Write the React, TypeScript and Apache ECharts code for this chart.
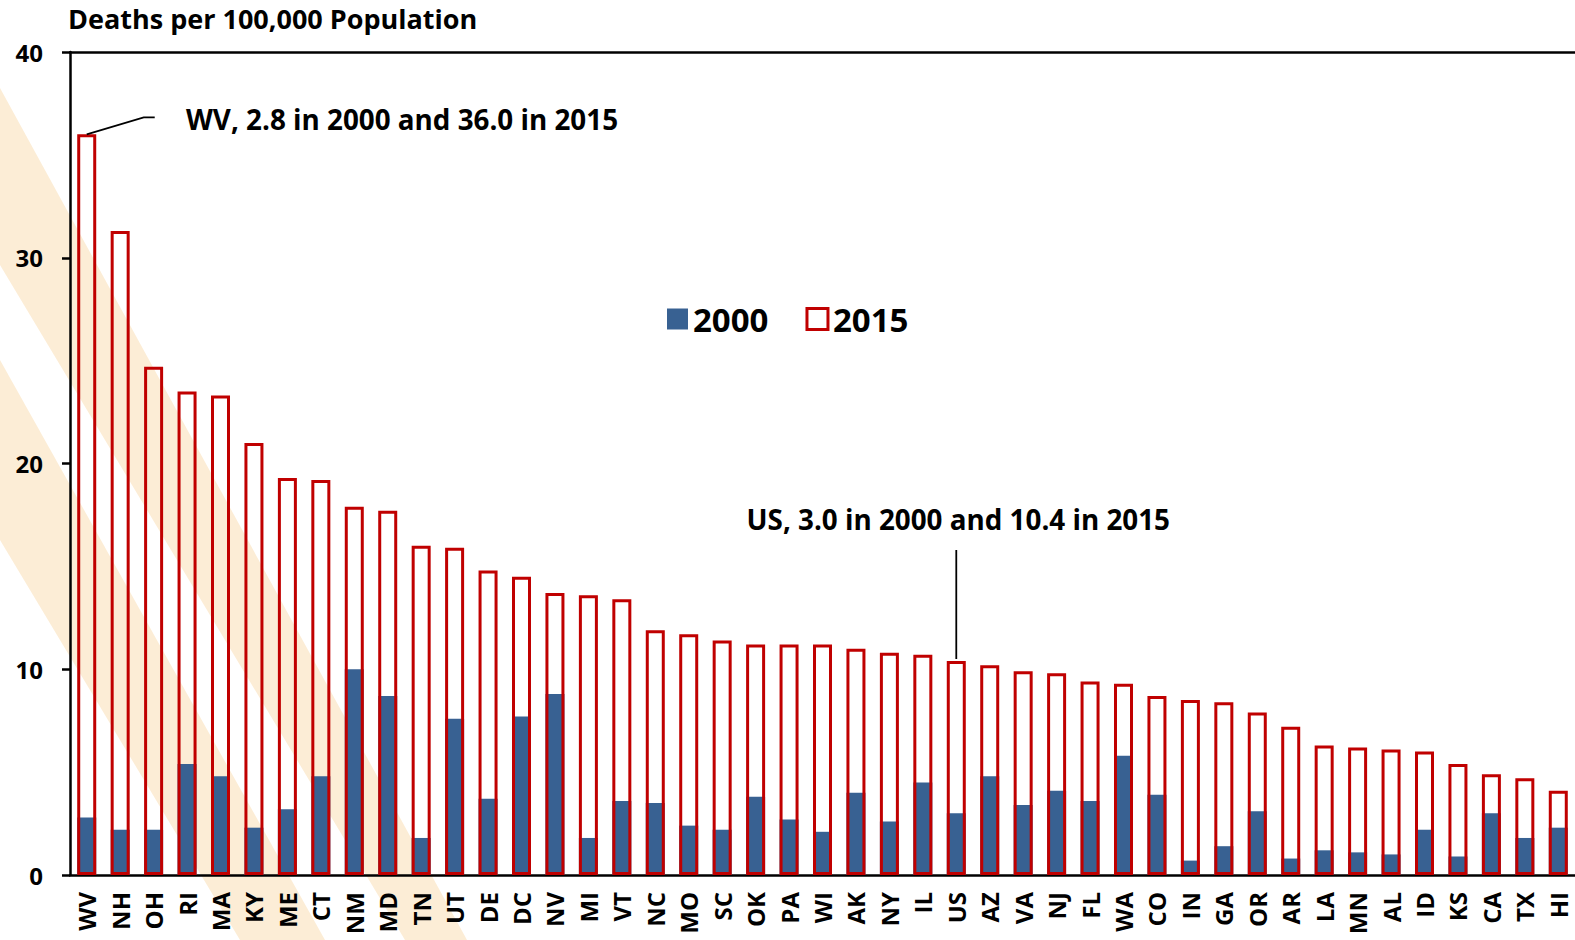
import React, { useEffect, useRef } from "react";
import * as echarts from "echarts";

const categories = ["WV","NH","OH","RI","MA","KY","ME","CT","NM","MD","TN","UT","DE","DC","NV","MI","VT","NC","MO","SC","OK","PA","WI","AK","NY","IL","US","AZ","VA","NJ","FL","WA","CO","IN","GA","OR","AR","LA","MN","AL","ID","KS","CA","TX","HI"];
const values2000 = [2.8,2.2,2.2,5.4,4.8,2.3,3.2,4.8,10.0,8.7,1.8,7.6,3.7,7.7,8.8,1.8,3.6,3.5,2.4,2.2,3.8,2.7,2.1,4.0,2.6,4.5,3.0,4.8,3.4,4.1,3.6,5.8,3.9,0.7,1.4,3.1,0.8,1.2,1.1,1.0,2.2,0.9,3.0,1.8,2.3];
const values2015 = [36.0,31.3,24.7,23.5,23.3,21.0,19.3,19.2,17.9,17.7,16.0,15.9,14.8,14.5,13.7,13.6,13.4,11.9,11.7,11.4,11.2,11.2,11.2,11.0,10.8,10.7,10.4,10.2,9.9,9.8,9.4,9.3,8.7,8.5,8.4,7.9,7.2,6.3,6.2,6.1,6.0,5.4,4.9,4.7,4.1];
const yTicks = [0, 10, 20, 30, 40];
const seriesNames = ["2000", "2015"];
const titleText = "Deaths per 100,000 Population";
const wvNote = "WV, 2.8 in 2000 and 36.0 in 2015";
const usNote = "US, 3.0 in 2000 and 10.4 in 2015";

const BLUE = "#386192";
const RED = "#C00000";
const BEIGE = "#FCEDD6";
const FONT = "Open Sans";

export default function App() {
  const ref = useRef<HTMLDivElement>(null);
  useEffect(() => {
    if (!ref.current) return;
    const chart = echarts.init(ref.current, null, { renderer: "svg" });
    chart.setOption({
      animation: false,
      backgroundColor: "#ffffff",
      title: {
        text: titleText,
        left: 63,
        top: 0,
        textStyle: { fontFamily: FONT, fontWeight: "bold", fontSize: 27, color: "#000" },
      },
      legend: {
        left: 662,
        top: 297,
        itemWidth: 21,
        itemHeight: 21,
        itemGap: 37,
        selectedMode: false,
        textStyle: { fontFamily: FONT, fontWeight: "bold", fontSize: 33, color: "#000", lineHeight: 34 },
        data: [
          { name: seriesNames[0], icon: "rect", itemStyle: { color: BLUE, borderWidth: 0 } },
          { name: seriesNames[1], icon: "rect", itemStyle: { color: "#fff", borderColor: RED, borderWidth: 3 } },
        ],
      },
      grid: { left: 70, top: 52, width: 1507, bottom: 65 },
      xAxis: [
        {
          type: "category",
          data: categories,
          axisLine: { show: true, lineStyle: { color: "#000", width: 2.5 } },
          axisTick: { show: false },
          axisLabel: {
            rotate: 90,
            interval: 0,
            margin: 17,
            fontFamily: FONT,
            fontWeight: "bold",
            fontSize: 24,
            color: "#000",
          },
        },
        {
          type: "category",
          position: "top",
          data: categories,
          axisLine: { show: true, lineStyle: { color: "#000", width: 2.5 } },
          axisTick: { show: false },
          axisLabel: { show: false },
        },
      ],
      yAxis: {
        type: "value",
        min: yTicks[0],
        max: yTicks[yTicks.length - 1],
        interval: 10,
        axisLine: { show: true, lineStyle: { color: "#000", width: 2.5 } },
        axisTick: { show: true, length: 8, lineStyle: { color: "#000", width: 2.5 } },
        splitLine: { show: false },
        axisLabel: {
          margin: 27,
          fontFamily: FONT,
          fontWeight: "bold",
          fontSize: 24,
          color: "#000",
        },
      },
      series: [
        {
          name: seriesNames[0],
          type: "bar",
          data: values2000,
          barWidth: 19,
          barGap: "-100%",
          itemStyle: { color: BLUE },
        },
        {
          name: seriesNames[1],
          type: "bar",
          data: values2015,
          barWidth: 19,
          barGap: "-100%",
          itemStyle: { color: "rgba(0,0,0,0)", borderColor: RED, borderWidth: 3 },
        },
      ],
    });

    const wvIdx = categories.indexOf("WV");
    const usIdx = categories.indexOf("US");
    const wvTop = chart.convertToPixel({ xAxisIndex: 0, yAxisIndex: 0 }, [categories[wvIdx], values2015[wvIdx]]) as number[];
    const usTop = chart.convertToPixel({ xAxisIndex: 0, yAxisIndex: 0 }, [categories[usIdx], values2015[usIdx]]) as number[];

    chart.setOption({
      graphic: [
        {
          type: "polygon",
          z: -10,
          silent: true,
          shape: { points: [[0, 88], [467, 940], [405, 940], [0, 265]] },
          style: { fill: BEIGE },
        },
        {
          type: "polygon",
          z: -10,
          silent: true,
          shape: { points: [[0, 360], [325, 940], [240, 940], [0, 540]] },
          style: { fill: BEIGE },
        },
        {
          type: "polyline",
          z: 10,
          silent: true,
          shape: { points: [[wvTop[0], wvTop[1]], [wvTop[0] + 57, wvTop[1] - 17], [wvTop[0] + 68, wvTop[1] - 17]] },
          style: { stroke: "#000", lineWidth: 1.8, fill: null },
        },
        {
          type: "text",
          z: 10,
          silent: true,
          style: {
            text: wvNote,
            x: 186,
            y: wvTop[1] - 15,
            align: "left",
            verticalAlign: "middle",
            fontFamily: FONT,
            fontWeight: "bold",
            fontSize: 27.8,
            fill: "#000",
          },
        },
        {
          type: "line",
          z: 10,
          silent: true,
          shape: { x1: usTop[0], y1: usTop[1] - 2, x2: usTop[0], y2: usTop[1] - 111 },
          style: { stroke: "#000", lineWidth: 1.8 },
        },
        {
          type: "text",
          z: 10,
          silent: true,
          style: {
            text: usNote,
            x: usTop[0] + 2,
            y: usTop[1] - 142,
            align: "center",
            verticalAlign: "middle",
            fontFamily: FONT,
            fontWeight: "bold",
            fontSize: 27.8,
            fill: "#000",
          },
        },
      ],
    });

    return () => chart.dispose();
  }, []);

  return (
    <div
      ref={ref}
      style={{ position: "absolute", left: 0, top: 0, width: 1575, height: 940, background: "#fff" }}
    />
  );
}
